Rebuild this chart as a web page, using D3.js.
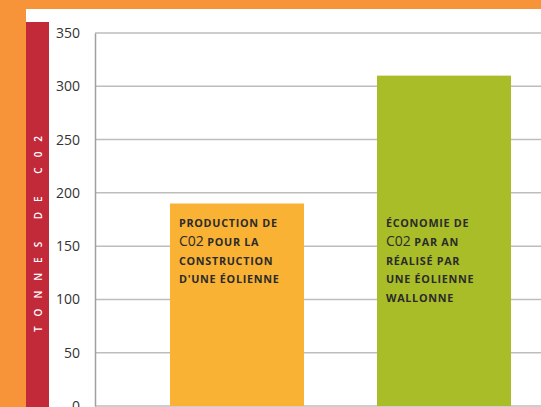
<!DOCTYPE html>
<html>
<head>
<meta charset="utf-8">
<script src="https://cdn.jsdelivr.net/npm/d3@7"></script>
<style>
  body { margin: 0; background: #F7943A; }
  svg { display: block; }
</style>
</head>
<body>
<div id="chart"></div>
<script>
// data
var categories = ['production', 'economie'];
var values = [190, 310];
var barColors = ['#F9B233', '#A9BD28'];
var barLabels = [
    ['PRODUCTION DE', 'C02 POUR LA', 'CONSTRUCTION', "D'UNE ÉOLIENNE"],
    ['ÉCONOMIE DE', 'C02 PAR AN', 'RÉALISÉ PAR', 'UNE ÉOLIENNE', 'WALLONNE']
];
var yTicks = [0, 50, 100, 150, 200, 250, 300, 350];
var yTitle = 'TONNES DE C02';

var width = 541, height = 407;
var margin = { left: 95, top: 33, right: 0, bottom: 1 };

var svg = d3.select('#chart').append('svg')
    .attr('width', width)
    .attr('height', height);

// white panel and red strip
svg.append('rect').attr('x', 26).attr('y', 9)
    .attr('width', width - 26).attr('height', height - 9)
    .attr('fill', '#fff');
svg.append('rect').attr('x', 26).attr('y', 22)
    .attr('width', 23).attr('height', height - 22)
    .attr('fill', '#C22A3A');

var y = d3.scaleLinear()
    .domain([0, 350])
    .range([height - margin.bottom, margin.top]);

var x = d3.scaleBand()
    .domain(categories)
    .range([133.5, 547.5])
    .paddingInner(0.3527)
    .paddingOuter(0.1763);

// gridlines
svg.append('g').selectAll('line')
    .data(yTicks)
    .enter().append('line')
    .attr('x1', margin.left).attr('x2', width)
    .attr('y1', function(d) { return y(d); })
    .attr('y2', function(d) { return y(d); })
    .attr('stroke', '#bdbdbd')
    .attr('stroke-width', 1.5);

// y axis
var yAxis = svg.append('g')
    .attr('transform', 'translate(' + margin.left + ',0)')
    .call(d3.axisLeft(y).tickValues(yTicks).tickSize(0).tickPadding(15));
yAxis.select('.domain').attr('stroke', '#a0a0a0').attr('stroke-width', 1.5);
yAxis.selectAll('text')
    .attr('font-family', 'Open Sans, sans-serif')
    .attr('font-size', 14)
    .attr('fill', '#333');

// bars
svg.append('g').selectAll('rect')
    .data(values)
    .enter().append('rect')
    .attr('x', function(d, i) { return x(categories[i]); })
    .attr('y', function(d) { return y(d); })
    .attr('width', x.bandwidth())
    .attr('height', function(d) { return y(0) - y(d); })
    .attr('fill', function(d, i) { return barColors[i]; });

// labels inside bars
var textTop = y(168);
barLabels.forEach(function(lines, i) {
    var t = svg.append('text')
        .attr('font-family', 'Open Sans, sans-serif')
        .attr('font-weight', 'bold')
        .attr('font-size', 10.8)
        .attr('letter-spacing', 0.7)
        .attr('fill', '#2b2b2b');
    lines.forEach(function(line, j) {
        var tl = t.append('tspan')
            .attr('x', x(categories[i]) + 9)
            .attr('y', textTop + j * 18.8);
        if (line.indexOf('C02') === 0) {
            tl.append('tspan').attr('font-size', 14).attr('font-weight', 'normal')
                .attr('letter-spacing', 0).text('C02');
            tl.append('tspan').text(line.slice(3));
        } else {
            tl.text(line);
        }
    });
});

// y title
svg.append('text')
    .attr('transform', 'translate(41.5,229) rotate(-90)')
    .attr('text-anchor', 'middle')
    .attr('font-family', 'Open Sans, sans-serif')
    .attr('font-weight', 600)
    .attr('font-size', 10)
    .attr('letter-spacing', 10)
    .attr('fill', '#fff')
    .text(yTitle);
</script>
</body>
</html>
